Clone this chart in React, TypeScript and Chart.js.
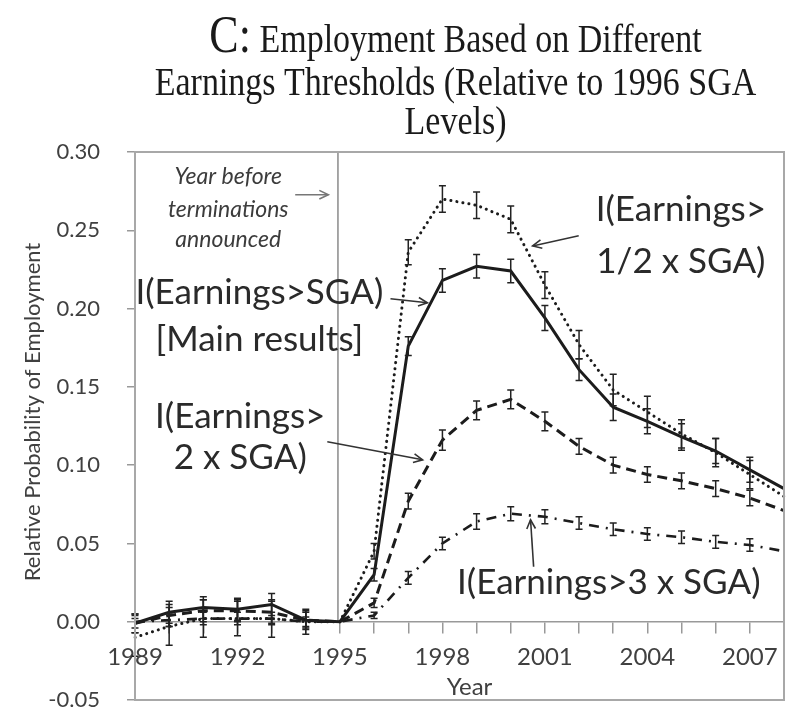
import React, { useEffect, useRef } from 'react';
import { Chart, registerables } from 'chart.js';

Chart.register(...registerables);

// ---------- data ----------
const years = ['1989','1990','1991','1992','1993','1994','1995','1996','1997','1998','1999','2000','2001','2002','2003','2004','2005','2006','2007','2008'];
const labeledYears = ['1989','1992','1995','1998','2001','2004','2007'];
const yTickValues = [-0.05, 0, 0.05, 0.1, 0.15, 0.2, 0.25, 0.3];

const mainValues = [-0.001, 0.006, 0.009, 0.008, 0.011, 0.001, 0, 0.030, 0.176, 0.218, 0.227, 0.224, 0.194, 0.161, 0.137, 0.128, 0.118, 0.109, 0.097, 0.085];
const halfValues = [-0.010, -0.003, 0.002, 0.002, 0.002, 0.000, 0, 0.045, 0.236, 0.270, 0.266, 0.257, 0.215, 0.177, 0.148, 0.134, 0.120, 0.108, 0.094, 0.080];
const twoValues = [-0.001, 0.004, 0.007, 0.007, 0.006, 0.001, 0, 0.012, 0.077, 0.116, 0.135, 0.142, 0.128, 0.112, 0.100, 0.094, 0.090, 0.085, 0.079, 0.071];
const threeValues = [0.000, 0.001, 0.002, 0.002, 0.002, 0.000, 0, 0.004, 0.028, 0.050, 0.064, 0.069, 0.067, 0.063, 0.059, 0.056, 0.054, 0.051, 0.049, 0.045];

const mainErr = [0.006, 0.007, 0.007, 0.007, 0.007, 0.006, 0, 0.004, 0.006, 0.0075, 0.0075, 0.0075, 0.008, 0.007, 0.0085, 0.008, 0.0085, 0.008, 0.008, 0];
const halfErr = [0.012, 0.012, 0.012, 0.011, 0.012, 0.008, 0, 0.005, 0.008, 0.0085, 0.0085, 0.0085, 0.0085, 0.009, 0.010, 0.010, 0.009, 0.009, 0.009, 0];
const twoErr = [0.006, 0.007, 0.007, 0.007, 0.007, 0.005, 0, 0.003, 0.005, 0.0065, 0.006, 0.006, 0.006, 0.005, 0.005, 0.005, 0.005, 0.005, 0.005, 0];
const threeErr = [0.004, 0.004, 0.004, 0.004, 0.004, 0.003, 0, 0.002, 0.004, 0.004, 0.005, 0.0045, 0.0045, 0.004, 0.004, 0.004, 0.004, 0.004, 0.004, 0];

const seriesNames = ['I(Earnings>SGA)', 'I(Earnings>1/2 x SGA)', 'I(Earnings>2 x SGA)', 'I(Earnings>3 x SGA)'];

// ---------- annotations (data space: year, value) ----------
const SANS = 'Lato, "Open Sans", sans-serif';
const textNotes = [
  { lines: ['I(Earnings>', '1/2 x SGA)'], year: 2004.98, values: [0.263, 0.230] },
  { lines: ['I(Earnings>SGA)', '[Main results]'], year: 1992.64, values: [0.210, 0.180] },
  { lines: ['I(Earnings>', '2 x SGA)'], year: 1992.08, values: [0.1309, 0.1047] },
  { lines: ['I(Earnings>3 x SGA)'], year: 2002.87, values: [0.0249] },
];
const arrowNotes = [
  { from: [2001.99, 0.2465], to: [2000.64, 0.240], color: '#333' },
  { from: [1996.48, 0.2063], to: [1997.56, 0.2037], color: '#333' },
  { from: [1994.63, 0.1149], to: [1997.42, 0.1034], color: '#333' },
  { from: [2000.67, 0.0351], to: [2000.58, 0.0651], color: '#333' },
  { from: [1993.69, 0.2727], to: [1994.66, 0.2727], color: '#777' },
];
const markerNote = { lines: ['Year before', 'terminations', 'announced'], year: 1991.73, values: [0.2842, 0.2631, 0.2439] };
const titleLines = [
  [{ t: 'C:', size: 44 }, { t: ' Employment Based on Different', size: 34 }],
  [{ t: 'Earnings Thresholds (Relative to 1996 SGA', size: 34 }],
  [{ t: 'Levels)', size: 34 }],
];

const errorSets = [mainErr, halfErr, twoErr, threeErr];

function App() {
  const ref = useRef<HTMLCanvasElement | null>(null);

  useEffect(() => {
    document.body.style.margin = '0';
    const canvas = ref.current;
    if (!canvas) return;

    const toPx = (chart: any, yr: number, v: number) => [
      chart.scales.x.getPixelForValue(yr - 1989),
      chart.scales.y.getPixelForValue(v),
    ];

    const drawArrow = (ctx: CanvasRenderingContext2D, x1: number, y1: number, x2: number, y2: number, color: string) => {
      ctx.save();
      ctx.strokeStyle = color;
      ctx.lineWidth = 1.6;
      ctx.beginPath();
      ctx.moveTo(x1, y1);
      ctx.lineTo(x2, y2);
      ctx.stroke();
      const ang = Math.atan2(y2 - y1, x2 - x1);
      const L = 10, a = 0.45;
      ctx.beginPath();
      ctx.moveTo(x2 - L * Math.cos(ang - a), y2 - L * Math.sin(ang - a));
      ctx.lineTo(x2, y2);
      ctx.lineTo(x2 - L * Math.cos(ang + a), y2 - L * Math.sin(ang + a));
      ctx.stroke();
      ctx.restore();
    };

    const errorBars = {
      id: 'errorBars',
      afterDatasetsDraw(chart: any) {
        const ctx = chart.ctx;
        const xs = chart.scales.x, ys = chart.scales.y;
        ctx.save();
        ctx.strokeStyle = '#222';
        ctx.lineWidth = 1.5;
        chart.data.datasets.forEach((ds: any, di: number) => {
          const errs = errorSets[di];
          ds.data.forEach((v: number, i: number) => {
            const e = errs[i];
            if (!e) return;
            const x = xs.getPixelForValue(i);
            const yt = ys.getPixelForValue(v + e);
            const yb = ys.getPixelForValue(v - e);
            ctx.beginPath();
            ctx.moveTo(x, yt); ctx.lineTo(x, yb);
            ctx.moveTo(x - 3.5, yt); ctx.lineTo(x + 3.5, yt);
            ctx.moveTo(x - 3.5, yb); ctx.lineTo(x + 3.5, yb);
            ctx.stroke();
          });
        });
        ctx.restore();
      },
    };

    const decorations = {
      id: 'decorations',
      beforeDatasetsDraw(chart: any) {
        const ctx = chart.ctx;
        const [vx, vTop] = toPx(chart, 1995, 0.30);
        const [, vBot] = toPx(chart, 1995, 0);
        ctx.save();
        ctx.strokeStyle = '#8a8a8a';
        ctx.lineWidth = 1.5;
        ctx.beginPath();
        ctx.moveTo(vx - 2, vTop);
        ctx.lineTo(vx - 2, vBot);
        ctx.stroke();
        ctx.restore();
      },
      afterDraw(chart: any) {
        const ctx = chart.ctx;
        const ca = chart.chartArea;
        ctx.save();
        // plot border
        ctx.strokeStyle = '#a8a8a8';
        ctx.lineWidth = 2;
        ctx.strokeRect(ca.left, ca.top, ca.right - ca.left, ca.bottom - ca.top);

        // title
        ctx.fillStyle = '#1a1a1a';
        ctx.textBaseline = 'alphabetic';
        ctx.textAlign = 'left';
        const cx = (ca.left + ca.right) / 2 - 4;
        const baselines = [52, 95, 134];
        titleLines.forEach((parts, li) => {
          let total = 0;
          parts.forEach(p => { ctx.font = `${p.size}px "Liberation Serif", "Times New Roman", serif`; total += ctx.measureText(p.t).width; });
          let x = cx - total / 2;
          parts.forEach(p => {
            ctx.font = `${p.size}px "Liberation Serif", "Times New Roman", serif`;
            ctx.save();
            ctx.translate(x, baselines[li]);
            ctx.scale(1, 1.2);
            ctx.fillText(p.t, 0, 0);
            ctx.restore();
            x += ctx.measureText(p.t).width;
          });
        });

        // axis titles
        ctx.fillStyle = '#404040';
        ctx.textAlign = 'center';
        ctx.font = `22px ${SANS}`;
        ctx.save();
        ctx.translate(40, (ca.top + ca.bottom) / 2 - 14);
        ctx.rotate(-Math.PI / 2);
        ctx.textBaseline = 'alphabetic';
        ctx.fillText('Relative Probability of Employment', 0, 0);
        ctx.restore();
        ctx.textBaseline = 'middle';
        ctx.font = `24px ${SANS}`;
        ctx.fillText('Year', cx + 14, ca.bottom - 13);

        // marker note
        ctx.fillStyle = '#3c3c3c';
        ctx.font = `italic 23px ${SANS}`;
        markerNote.lines.forEach((t, i) => {
          const [x, y] = toPx(chart, markerNote.year, markerNote.values[i]);
          ctx.fillText(t, x, y);
        });

        // series notes
        ctx.fillStyle = '#2a2a2a';
        ctx.font = `35px ${SANS}`;
        textNotes.forEach(n => {
          n.lines.forEach((t, i) => {
            const [x, y] = toPx(chart, n.year, n.values[i]);
            ctx.fillText(t, x, y);
          });
        });
        ctx.restore();

        arrowNotes.forEach(a => {
          const [x1, y1] = toPx(chart, a.from[0], a.from[1]);
          const [x2, y2] = toPx(chart, a.to[0], a.to[1]);
          drawArrow(ctx, x1, y1, x2, y2, a.color);
        });
      },
    };

    const zeroPad = (s: any) => { s.paddingTop = 0; s.paddingBottom = 0; s.paddingLeft = 0; s.paddingRight = 0; };

    const lineColor = '#1c1c1c';
    const chart = new Chart(canvas, {
      type: 'line',
      data: {
        labels: years,
        datasets: [
          { label: seriesNames[0], data: mainValues, borderColor: lineColor, borderWidth: 3, pointRadius: 0, tension: 0, fill: false },
          { label: seriesNames[1], data: halfValues, borderColor: lineColor, borderWidth: 3, borderDash: [0.1, 6], borderCapStyle: 'round', pointRadius: 0, tension: 0, fill: false },
          { label: seriesNames[2], data: twoValues, borderColor: lineColor, borderWidth: 3, borderDash: [10, 6], pointRadius: 0, tension: 0, fill: false },
          { label: seriesNames[3], data: threeValues, borderColor: lineColor, borderWidth: 2.6, borderDash: [10, 7, 2, 7], pointRadius: 0, tension: 0, fill: false },
        ],
      },
      options: {
        responsive: false,
        animation: false,
        layout: { padding: { top: 152, left: 0, right: 3, bottom: 10 } },
        plugins: { legend: { display: false }, tooltip: { enabled: false }, title: { display: false } },
        scales: {
          x: {
            type: 'category',
            position: { y: 0 } as any,
            offset: false,
            ticks: {
              autoSkip: false,
              maxRotation: 0,
              minRotation: 0,
              padding: 10,
              color: '#404040',
              font: { family: SANS, size: 24 },
              callback: (_v: any, idx: number) => (labeledYears.includes(years[idx]) ? years[idx] : ''),
            },
            grid: { drawOnChartArea: false, drawTicks: true, tickLength: 11, color: '#999', lineWidth: 1.5 },
            border: { color: '#999', width: 1.5 },
            afterFit: (s: any) => { s.height = 0; zeroPad(s); },
          },
          y: {
            min: -0.05,
            max: 0.30,
            afterBuildTicks: (s: any) => { s.ticks = yTickValues.map(v => ({ value: v })); },
            ticks: {
              padding: 27,
              color: '#404040',
              font: { family: SANS, size: 22 },
              callback: (v: any) => Number(v).toFixed(2),
            },
            grid: { drawOnChartArea: false, drawTicks: true, tickLength: 8, color: '#999', lineWidth: 1.5 },
            border: { color: '#999', width: 1.5 },
            afterFit: (s: any) => { s.width = 135; zeroPad(s); },
          },
        },
      },
      plugins: [decorations, errorBars],
    } as any);

    return () => chart.destroy();
  }, []);

  return (
    <div style={{ width: 787, height: 710, background: '#fff' }}>
      <canvas ref={ref} width={787} height={710} style={{ display: 'block' }} />
    </div>
  );
}

export default App;
